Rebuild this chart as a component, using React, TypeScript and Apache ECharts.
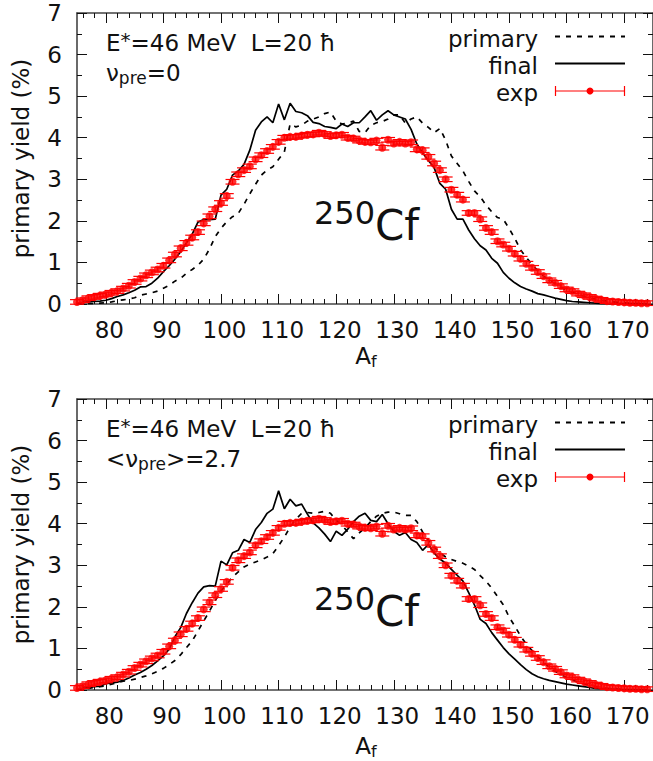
import React, { useEffect, useRef } from "react";
import * as echarts from "echarts";

// Fragment mass numbers A_f (75 ... 174)
const massNumbers: number[] = [
  75, 76, 77, 78, 79, 80, 81, 82, 83, 84,
  85, 86, 87, 88, 89, 90, 91, 92, 93, 94,
  95, 96, 97, 98, 99, 100, 101, 102, 103, 104,
  105, 106, 107, 108, 109, 110, 111, 112, 113, 114,
  115, 116, 117, 118, 119, 120, 121, 122, 123, 124,
  125, 126, 127, 128, 129, 130, 131, 132, 133, 134,
  135, 136, 137, 138, 139, 140, 141, 142, 143, 144,
  145, 146, 147, 148, 149, 150, 151, 152, 153, 154,
  155, 156, 157, 158, 159, 160, 161, 162, 163, 164,
  165, 166, 167, 168, 169, 170, 171, 172, 173, 174,
];

const xTickValues: number[] = [80, 90, 100, 110, 120, 130, 140, 150, 160, 170];
const xMinorTickValues: number[] = [
  76, 78, 82, 84, 86, 88, 92, 94, 96, 98, 102, 104, 106, 108, 112, 114, 116, 118,
  122, 124, 126, 128, 132, 134, 136, 138, 142, 144, 146, 148, 152, 154, 156, 158,
  162, 164, 166, 168, 172, 174,
];

// Experimental yield (%), same data in both panels
const expYield: number[] = [
  0.05, 0.09, 0.14, 0.17, 0.20, 0.23, 0.27, 0.31, 0.37, 0.44,
  0.53, 0.61, 0.69, 0.76, 0.83, 0.92, 1.05, 1.19, 1.34, 1.47,
  1.60, 1.73, 1.94, 2.11, 2.28, 2.43, 2.60, 2.94, 3.12, 3.22,
  3.31, 3.48, 3.58, 3.68, 3.78, 3.90, 4.00, 4.02, 4.02, 4.05,
  4.07, 4.08, 4.12, 4.09, 4.04, 4.06, 4.07, 4.00, 3.98, 3.93,
  3.90, 3.89, 3.93, 3.76, 3.95, 3.86, 3.90, 3.86, 3.89, 3.72,
  3.70, 3.54, 3.38, 3.22, 3.00, 2.75, 2.63, 2.51, 2.19, 2.19,
  2.04, 1.83, 1.73, 1.51, 1.43, 1.33, 1.21, 1.09, 0.97, 0.87,
  0.77, 0.67, 0.57, 0.51, 0.43, 0.35, 0.31, 0.25, 0.21, 0.17,
  0.13, 0.10, 0.07, 0.06, 0.05, 0.04, 0.03, 0.03, 0.02, 0.02,
];
const expError = 0.055;

// Top panel (nu_pre = 0)
const primaryTop: number[] = [
  0.00, 0.00, 0.01, 0.01, 0.02, 0.03, 0.05, 0.08, 0.10, 0.12,
  0.15, 0.21, 0.24, 0.27, 0.31, 0.38, 0.45, 0.55, 0.62, 0.74,
  0.83, 0.93, 1.08, 1.32, 1.62, 1.82, 1.98, 2.10, 2.18, 2.40,
  2.65, 2.88, 3.10, 3.22, 3.30, 3.48, 3.66, 4.33, 4.26, 4.30,
  4.40, 4.45, 4.50, 4.58, 4.62, 4.40, 4.33, 4.35, 4.40, 4.15,
  4.12, 4.30, 4.36, 4.39, 4.45, 4.55, 4.55, 4.35, 4.45, 4.50,
  4.35, 4.25, 4.12, 4.22, 3.94, 3.56, 3.38, 3.20, 2.95, 2.72,
  2.58, 2.38, 2.22, 2.08, 2.04, 1.82, 1.58, 1.30, 1.12, 0.95,
  0.80, 0.67, 0.57, 0.49, 0.40, 0.33, 0.28, 0.23, 0.19, 0.15,
  0.12, 0.09, 0.07, 0.05, 0.04, 0.03, 0.02, 0.01, 0.01, 0.00,
];
const finalTop: number[] = [
  0.02, 0.04, 0.05, 0.06, 0.07, 0.09, 0.13, 0.18, 0.22, 0.27,
  0.33, 0.41, 0.42, 0.50, 0.62, 0.78, 0.92, 1.08, 1.26, 1.47,
  1.68, 1.97, 2.03, 2.03, 2.04, 2.62, 2.76, 3.10, 3.20, 3.36,
  3.70, 4.18, 4.38, 4.50, 4.36, 4.81, 4.43, 4.83, 4.63, 4.60,
  4.53, 4.37, 4.34, 4.27, 4.25, 4.22, 4.33, 4.27, 4.36, 4.36,
  4.50, 4.65, 4.42, 4.55, 4.65, 4.55, 4.50, 4.45, 4.20, 3.85,
  3.64, 3.45, 3.28, 2.90, 2.76, 2.28, 2.04, 2.04, 1.78, 1.57,
  1.40, 1.30, 1.10, 0.98, 0.76, 0.62, 0.51, 0.42, 0.36, 0.31,
  0.25, 0.22, 0.18, 0.14, 0.11, 0.08, 0.06, 0.05, 0.04, 0.03,
  0.02, 0.01, 0.01, 0.01, 0.01, 0.01, 0.01, 0.01, 0.01, 0.01,
];

// Bottom panel (<nu_pre> = 2.7)
const primaryBottom: number[] = [
  0.00, 0.02, 0.04, 0.06, 0.08, 0.10, 0.14, 0.18, 0.21, 0.23,
  0.26, 0.30, 0.34, 0.39, 0.45, 0.52, 0.61, 0.71, 0.85, 1.02,
  1.18, 1.42, 1.66, 1.90, 2.15, 2.38, 2.55, 2.72, 2.84, 2.96,
  3.03, 3.08, 3.13, 3.20, 3.28, 3.47, 3.68, 3.92, 4.11, 4.25,
  4.27, 4.25, 4.27, 4.30, 4.25, 4.08, 3.97, 3.80, 3.64, 3.78,
  3.90, 4.05, 4.18, 4.25, 4.28, 4.28, 4.24, 4.20, 4.20, 4.05,
  3.80, 3.60, 3.44, 3.30, 3.20, 3.14, 3.09, 3.05, 2.98, 2.90,
  2.75, 2.62, 2.45, 2.25, 2.05, 1.76, 1.54, 1.30, 1.10, 0.95,
  0.80, 0.66, 0.55, 0.45, 0.37, 0.30, 0.24, 0.19, 0.15, 0.11,
  0.08, 0.06, 0.04, 0.03, 0.02, 0.01, 0.00, 0.00, 0.00, 0.00,
];
const finalBottom: number[] = [
  0.02, 0.04, 0.06, 0.08, 0.09, 0.15, 0.17, 0.19, 0.23, 0.29,
  0.36, 0.42, 0.50, 0.59, 0.70, 0.82, 0.98, 1.28, 1.50, 1.84,
  2.10, 2.33, 2.48, 2.51, 2.50, 3.10, 3.01, 3.30, 3.36, 3.62,
  3.55, 3.86, 4.03, 4.25, 4.35, 4.79, 4.36, 4.59, 4.43, 4.47,
  4.23, 4.02, 3.90, 3.75, 3.57, 3.82, 3.72, 3.87, 4.05, 4.18,
  4.25, 4.08, 4.05, 4.22, 4.00, 3.82, 3.72, 3.79, 3.62, 3.55,
  3.36, 3.50, 3.30, 3.15, 3.05, 2.90, 2.76, 2.62, 2.34, 2.05,
  1.70, 1.60, 1.38, 1.20, 1.02, 0.87, 0.74, 0.61, 0.49, 0.39,
  0.32, 0.27, 0.23, 0.20, 0.17, 0.14, 0.12, 0.10, 0.08, 0.06,
  0.04, 0.03, 0.02, 0.02, 0.01, 0.01, 0.01, 0.01, 0.01, 0.01,
];

const FONT = "DejaVu Sans";
const FS = 23;
const TXT = "#111";
const RED = "#ff0000";
const FRAME = "#444";

const panels = [
  {
    top: 13,
    height: 291,
    primary: primaryTop,
    final: finalTop,
    line2: "{a|ν}{sub|pre}{a|=0}",
    dy: 0,
    xNameY: 355.5,
  },
  {
    top: 399,
    height: 291,
    primary: primaryBottom,
    final: finalBottom,
    line2: "{a|<ν}{sub|pre}{a|>=2.7}",
    dy: 386,
    xNameY: 746,
  },
];

const errorBarItem = (_params: any, api: any) => {
  const x = api.value(0);
  const y = api.value(1);
  const e = api.value(2);
  const lo = api.coord([x, y - e]);
  const hi = api.coord([x, y + e]);
  const hw = 7;
  const style = { stroke: RED, lineWidth: 1.2 };
  return {
    type: "group",
    children: [
      { type: "line", shape: { x1: lo[0], y1: lo[1], x2: hi[0], y2: hi[1] }, style },
      { type: "line", shape: { x1: lo[0] - hw, y1: lo[1], x2: lo[0] + hw, y2: lo[1] }, style },
      { type: "line", shape: { x1: hi[0] - hw, y1: hi[1], x2: hi[0] + hw, y2: hi[1] }, style },
    ],
  };
};

function buildOption() {
  const grid: any[] = [];
  const xAxis: any[] = [];
  const yAxis: any[] = [];
  const series: any[] = [];
  const graphic: any[] = [];

  const richMain = { fontSize: FS, fontFamily: FONT, fill: TXT, lineHeight: 27 };

  panels.forEach((p, i) => {
    grid.push({ left: 77, top: p.top, width: 578, height: p.height });
    const xBase = {
      type: "value",
      gridIndex: i,
      min: 75,
      max: 175,
      splitLine: { show: false },
      axisLabel: { show: false },
    };
    const frameLine = { show: true, lineStyle: { color: FRAME, width: 1.6 } };
    const majorTick = {
      show: true,
      inside: true,
      length: 10,
      customValues: xTickValues,
      lineStyle: { color: TXT, width: 1 },
    };
    const minorTick = {
      show: true,
      inside: true,
      length: 5,
      customValues: xMinorTickValues,
      lineStyle: { color: TXT, width: 1 },
    };
    xAxis.push({
      ...xBase,
      position: "bottom",
      axisLine: frameLine,
      axisTick: majorTick,
      axisLabel: {
        show: true,
        customValues: xTickValues,
        margin: 14,
        fontSize: FS,
        fontFamily: FONT,
        color: TXT,
        padding: [0, 0, 0, 7],
      },
    });
    xAxis.push({ ...xBase, position: "bottom", axisLine: { show: false }, axisTick: minorTick });
    xAxis.push({ ...xBase, position: "top", axisLine: frameLine, axisTick: majorTick });
    xAxis.push({ ...xBase, position: "top", axisLine: { show: false }, axisTick: minorTick });

    const yBase = {
      type: "value",
      gridIndex: i,
      min: 0,
      max: 7,
      interval: 1,
      splitLine: { show: false },
      minorSplitLine: { show: false },
      axisLine: frameLine,
      axisTick: { show: true, inside: true, length: 10, lineStyle: { color: TXT, width: 1 } },
      minorTick: { show: true, splitNumber: 2, length: 5, lineStyle: { color: TXT, width: 1 } },
    };
    yAxis.push({
      ...yBase,
      position: "left",
      axisLabel: { show: true, margin: 15, fontSize: FS, fontFamily: FONT, color: TXT },
    });
    yAxis.push({ ...yBase, position: "right", axisLabel: { show: false } });

    const xi = 4 * i;
    const yi = 2 * i;
    series.push({
      type: "line",
      name: "primary",
      xAxisIndex: xi,
      yAxisIndex: yi,
      symbol: "none",
      silent: true,
      lineStyle: { color: "#000", width: 1.7, type: [5, 6] },
      data: massNumbers.map((a, k) => [a, p.primary[k]]),
      z: 2,
    });
    series.push({
      type: "line",
      name: "final",
      xAxisIndex: xi,
      yAxisIndex: yi,
      symbol: "none",
      silent: true,
      lineStyle: { color: "#000", width: 1.7 },
      data: massNumbers.map((a, k) => [a, p.final[k]]),
      z: 2,
    });
    series.push({
      type: "custom",
      name: "exp-err",
      xAxisIndex: xi,
      yAxisIndex: yi,
      renderItem: errorBarItem,
      encode: { x: 0, y: 1 },
      silent: true,
      data: massNumbers.map((a, k) => [a, expYield[k], expError]),
      z: 3,
    });
    series.push({
      type: "scatter",
      name: "exp",
      xAxisIndex: xi,
      yAxisIndex: yi,
      symbol: "circle",
      symbolSize: 8,
      silent: true,
      itemStyle: { color: RED },
      data: massNumbers.map((a, k) => [a, expYield[k]]),
      z: 4,
    });

    const dy = p.dy;
    // Y axis title
    graphic.push({
      type: "text",
      x: 21,
      y: 158.5 + dy,
      rotation: Math.PI / 2,
      style: {
        text: "primary yield (%)",
        fontSize: FS,
        fontFamily: FONT,
        fill: TXT,
        align: "center",
        verticalAlign: "middle",
      },
    });
    // X axis title
    graphic.push({
      type: "text",
      x: 366,
      y: p.xNameY,
      style: {
        text: "{a|A}{sub|f}",
        align: "center",
        verticalAlign: "middle",
        rich: {
          a: richMain,
          sub: { fontSize: 16, fontFamily: FONT, fill: TXT, lineHeight: 16, verticalAlign: "bottom" },
        },
      },
    });
    // Annotation lines
    graphic.push({
      type: "text",
      x: 106,
      y: 43 + dy,
      style: {
        text: "{a|E}{sup|*}{a|=46 MeV  L=20 ħ}",
        align: "left",
        verticalAlign: "middle",
        rich: {
          a: richMain,
          sup: { fontSize: 20, fontFamily: FONT, fill: TXT, lineHeight: 20, verticalAlign: "top" },
        },
      },
    });
    graphic.push({
      type: "text",
      x: 106,
      y: 73 + dy,
      style: {
        text: p.line2,
        align: "left",
        verticalAlign: "middle",
        rich: {
          a: richMain,
          sub: { fontSize: 17, fontFamily: FONT, fill: TXT, lineHeight: 17, verticalAlign: "bottom" },
        },
      },
    });
    // 250Cf label
    graphic.push({
      type: "text",
      x: 314,
      y: 212.5 + dy,
      style: { text: "250", fontSize: 32, fontFamily: FONT, fill: TXT, align: "left", verticalAlign: "middle" },
    });
    graphic.push({
      type: "text",
      x: 375,
      y: 225 + dy,
      style: { text: "Cf", fontSize: 42, fontFamily: FONT, fill: TXT, align: "left", verticalAlign: "middle" },
    });
    // Legend
    const legY = [36.5 + dy, 63.5 + dy, 91 + dy];
    const legNames = ["primary", "final", "exp"];
    legNames.forEach((n, k) => {
      graphic.push({
        type: "text",
        x: 538,
        y: legY[k] + 2,
        style: { text: n, fontSize: FS, fontFamily: FONT, fill: TXT, align: "right", verticalAlign: "middle" },
      });
    });
    graphic.push({
      type: "line",
      shape: { x1: 555, y1: legY[0], x2: 625, y2: legY[0] },
      style: { stroke: "#000", lineWidth: 1.8, lineDash: [5, 6] },
    });
    graphic.push({
      type: "line",
      shape: { x1: 555, y1: legY[1], x2: 625, y2: legY[1] },
      style: { stroke: "#000", lineWidth: 2 },
    });
    graphic.push({
      type: "line",
      shape: { x1: 555, y1: legY[2], x2: 625, y2: legY[2] },
      style: { stroke: RED, lineWidth: 1.2 },
    });
    graphic.push({
      type: "line",
      shape: { x1: 555.5, y1: legY[2] - 5, x2: 555.5, y2: legY[2] + 5 },
      style: { stroke: RED, lineWidth: 1.2 },
    });
    graphic.push({
      type: "line",
      shape: { x1: 624.5, y1: legY[2] - 5, x2: 624.5, y2: legY[2] + 5 },
      style: { stroke: RED, lineWidth: 1.2 },
    });
    graphic.push({
      type: "circle",
      shape: { cx: 590, cy: legY[2], r: 3.5 },
      style: { fill: RED },
    });
  });

  return {
    animation: false,
    backgroundColor: "#fff",
    grid,
    xAxis,
    yAxis,
    series,
    graphic,
  };
}

export default function App() {
  const ref = useRef<HTMLDivElement>(null);
  useEffect(() => {
    if (!ref.current) return;
    const chart = echarts.init(ref.current, undefined, { renderer: "svg" });
    chart.setOption(buildOption() as any);
    return () => chart.dispose();
  }, []);
  return (
    <div
      ref={ref}
      style={{ position: "fixed", left: 0, top: 0, width: 653, height: 761, background: "#fff" }}
    />
  );
}
